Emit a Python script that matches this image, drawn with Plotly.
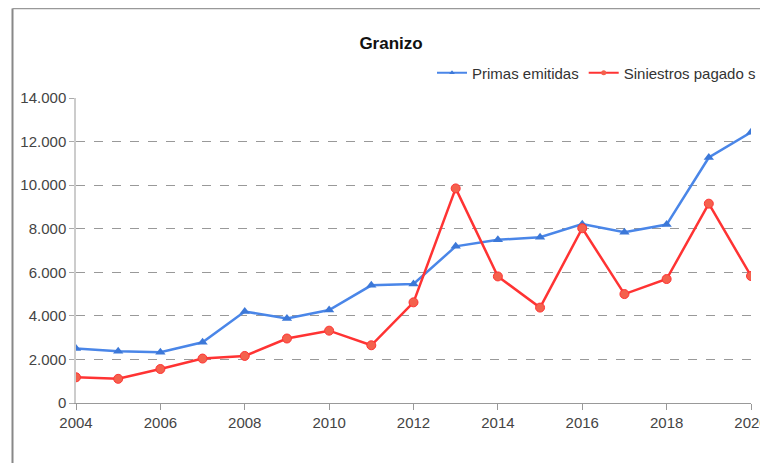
import plotly.graph_objects as go

years = list(range(2004, 2021))
primas = [2500, 2380, 2330, 2790, 4200, 3880, 4270, 5400, 5460, 7190, 7490, 7610, 8210, 7840, 8190, 11270, 12430]
siniestros = [1180, 1110, 1560, 2040, 2160, 2960, 3320, 2650, 4620, 9850, 5810, 4380, 8020, 5000, 5690, 9150, 5830]
yticks = [0, 2000, 4000, 6000, 8000, 10000, 12000, 14000]
xticks = list(range(2004, 2021, 2))

BLUE = "#4a86e8"
RED = "#ff3333"
FONT = "Liberation Sans, Arial, sans-serif"

W, H = 760, 455
ML, MR, MT, MB = 68, 17, 90, 60
PW, PH = W - ML - MR, H - MT - MB

fig = go.Figure()
fig.add_trace(go.Scatter(
    x=years, y=primas, name="Primas emitidas", mode="lines+markers",
    line=dict(color=BLUE, width=2.5),
    marker=dict(symbol="triangle-up", size=9, color="#3c78d8"),
    showlegend=False,
))
fig.add_trace(go.Scatter(
    x=years, y=siniestros, name="Siniestros pagado s", mode="lines+markers",
    line=dict(color=RED, width=2.5),
    marker=dict(symbol="circle", size=9, color="#f4614d", line=dict(color=RED, width=1)),
    showlegend=False,
))
# legend entries with small markers
fig.add_trace(go.Scatter(
    x=[None], y=[None], name="Primas emitidas", mode="lines+markers",
    line=dict(color=BLUE, width=2), marker=dict(symbol="triangle-up", size=5, color="#3c78d8"),
))
fig.add_trace(go.Scatter(
    x=[None], y=[None], name="Siniestros pagado s", mode="lines+markers",
    line=dict(color=RED, width=2), marker=dict(symbol="circle", size=5, color="#f4614d"),
))

fig.update_layout(
    width=W, height=H,
    margin=dict(l=ML, r=MR, t=MT, b=MB, autoexpand=False),
    paper_bgcolor="white", plot_bgcolor="white",
    separators=",.",
    font=dict(family=FONT, size=15, color="#444444"),
    title=dict(text="<b>Granizo</b>", x=0.504, xanchor="center", y=1 - 35 / H, yanchor="middle",
               font=dict(family=FONT, size=17, color="#111111")),
    legend=dict(orientation="h", xref="container", yref="container",
                x=(W - 7) / W, xanchor="right",
                y=1 - 65 / H, yanchor="middle",
                font=dict(family=FONT, size=15, color="#333333"), bgcolor="rgba(0,0,0,0)",
                tracegroupgap=0),
    showlegend=True,
)
fig.update_xaxes(
    range=[2004, 2020], tickvals=xticks, ticktext=[str(v) for v in xticks],
    showgrid=False, showline=True, linecolor="#999999", linewidth=1,
    ticks="outside", ticklen=6, tickcolor="#999999", zeroline=False,
    tickfont=dict(family=FONT, size=15, color="#444444"),
)
fig.update_yaxes(
    range=[0, 14000], tickvals=yticks, tickformat=",d",
    showgrid=True, gridcolor="#999999", griddash="dash", gridwidth=1,
    showline=True, linecolor="#cccccc", linewidth=1.5,
    ticks="outside", ticklen=5, tickcolor="#aaaaaa", zeroline=False,
    tickfont=dict(family=FONT, size=15, color="#444444"),
)
# frame (left and top border of the container)
fx = (4.5 - ML) / PW
fy = (H - MB - 0.5) / PH
fig.add_shape(type="line", xref="paper", yref="paper",
              x0=fx, x1=fx, y0=fy, y1=-(MB + 5) / PH,
              line=dict(color="#888888", width=2))
fig.add_shape(type="line", xref="paper", yref="paper",
              x0=fx, x1=(W + 5 - ML) / PW, y0=fy, y1=fy,
              line=dict(color="#999999", width=1.5))

fig.write_html("out.html")
